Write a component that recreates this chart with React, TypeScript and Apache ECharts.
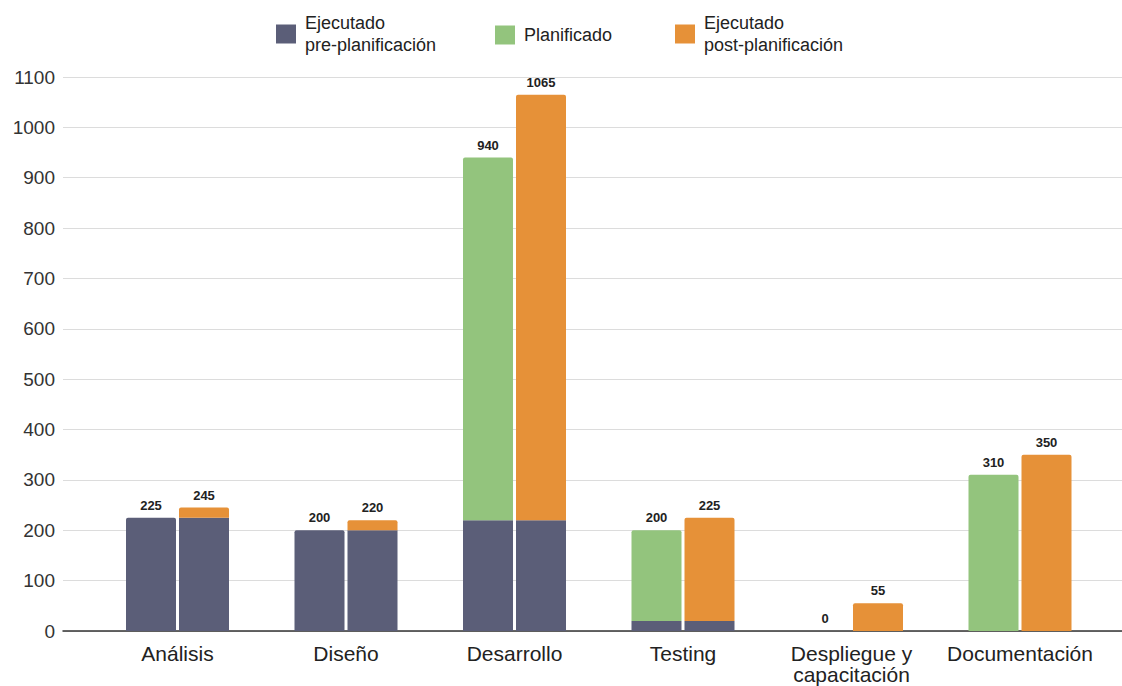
import React, { useEffect, useRef } from "react";
import * as echarts from "echarts";

const categories = ["Análisis", "Diseño", "Desarrollo", "Testing", "Despliegue y\ncapacitación", "Documentación"];
const preValues = [225, 200, 220, 20, 0, 0];
const plannedValues = [0, 0, 720, 180, 0, 310];
const postValues = [20, 20, 845, 205, 55, 350];
const yTicks = [0, 100, 200, 300, 400, 500, 600, 700, 800, 900, 1000, 1100];

const NAME_PRE = "Ejecutado pre-planificación";
const NAME_PLAN = "Planificado";
const NAME_POST = "Ejecutado post-planificación";

const C_PRE = "#5b5e78";
const C_PLAN = "#93c47d";
const C_POST = "#e69138";
const FONT = "'Liberation Sans', Arial, sans-serif";

export default function App() {
  const ref = useRef<HTMLDivElement>(null);
  useEffect(() => {
    document.body.style.margin = "0";
    const chart = echarts.init(ref.current!, null, { renderer: "svg" });
    const leftTotals = preValues.map((v, i) => v + plannedValues[i]);
    const rightTotals = preValues.map((v, i) => v + postValues[i]);
    const yMax = yTicks[yTicks.length - 1];
    const labelStyle = {
      show: true,
      position: "top" as const,
      distance: 6,
      fontSize: 13,
      fontWeight: "bold" as const,
      color: "#222",
      fontFamily: FONT,
    };
    const legendCommon = {
      padding: 0,
      itemWidth: 20,
      itemHeight: 19,
      icon: "rect",
      selectedMode: false,
      textStyle: { fontSize: 18, lineHeight: 22, color: "#222", fontFamily: FONT, padding: [0, 0, 0, 4] },
      formatter: (n: string) =>
        n === NAME_PRE ? "Ejecutado\npre-planificación" : n === NAME_POST ? "Ejecutado\npost-planificación" : n,
    };
    chart.setOption({
      animation: false,
      textStyle: { fontFamily: FONT },
      legend: [
        { ...legendCommon, data: [{ name: NAME_PRE, itemStyle: { color: C_PRE } }], left: 276, top: 12 },
        { ...legendCommon, data: [{ name: NAME_PLAN, itemStyle: { color: C_PLAN } }], left: 495, top: 24 },
        { ...legendCommon, data: [{ name: NAME_POST, itemStyle: { color: C_POST } }], left: 675, top: 12 },
      ],
      grid: [
        { left: 63, right: 0, top: 77, bottom: 55 },
        { left: 93.25, right: 17.75, top: 77, bottom: 55 },
      ],
      xAxis: [
        {
          gridIndex: 0,
          type: "value",
          min: 0,
          max: 1,
          axisLine: { show: true, onZero: false, lineStyle: { color: "#333", width: 1.5 } },
          axisTick: { show: false },
          axisLabel: { show: false },
          splitLine: { show: false },
        },
        {
          gridIndex: 1,
          type: "category",
          data: categories,
          axisLine: { show: false },
          axisTick: { show: false },
          axisLabel: { fontSize: 21, lineHeight: 21, color: "#222", margin: 12, fontFamily: FONT, interval: 0 },
        },
      ],
      yAxis: [
        {
          gridIndex: 0,
          type: "value",
          min: 0,
          max: yMax,
          interval: 100,
          axisLine: { show: false },
          axisTick: { show: false },
          axisLabel: { fontSize: 19, color: "#333", margin: 8, fontFamily: FONT, formatter: (v: number) => String(v) },
          splitLine: { lineStyle: { color: "#dcdcdc", width: 1 } },
        },
        {
          gridIndex: 1,
          type: "value",
          min: 0,
          max: yMax,
          interval: 100,
          axisLine: { show: false },
          axisTick: { show: false },
          axisLabel: { show: false },
          splitLine: { show: false },
        },
      ],
      series: [
        {
          name: NAME_PRE,
          type: "bar",
          xAxisIndex: 1,
          yAxisIndex: 1,
          stack: "left",
          barWidth: 50,
          barGap: "6%",
          itemStyle: { color: C_PRE },
          data: preValues.map((v, i) => ({
            value: v,
            itemStyle: { borderRadius: plannedValues[i] === 0 ? [2, 2, 0, 0] : 0 },
          })),
        },
        {
          name: NAME_PLAN,
          type: "bar",
          xAxisIndex: 1,
          yAxisIndex: 1,
          stack: "left",
          barWidth: 50,
          barGap: "6%",
          itemStyle: { color: C_PLAN, borderRadius: [2, 2, 0, 0] },
          label: { ...labelStyle, formatter: (p: any) => String(leftTotals[p.dataIndex]) },
          data: plannedValues,
        },
        {
          name: NAME_PRE,
          type: "bar",
          xAxisIndex: 1,
          yAxisIndex: 1,
          stack: "right",
          barWidth: 50,
          barGap: "6%",
          itemStyle: { color: C_PRE },
          data: preValues.map((v, i) => ({
            value: v,
            itemStyle: { borderRadius: postValues[i] === 0 ? [2, 2, 0, 0] : 0 },
          })),
        },
        {
          name: NAME_POST,
          type: "bar",
          xAxisIndex: 1,
          yAxisIndex: 1,
          stack: "right",
          barWidth: 50,
          barGap: "6%",
          itemStyle: { color: C_POST, borderRadius: [2, 2, 0, 0] },
          label: { ...labelStyle, formatter: (p: any) => String(rightTotals[p.dataIndex]) },
          data: postValues,
        },
      ],
    });
    return () => chart.dispose();
  }, []);
  return <div ref={ref} style={{ width: 1122, height: 686, background: "#fff" }} />;
}
